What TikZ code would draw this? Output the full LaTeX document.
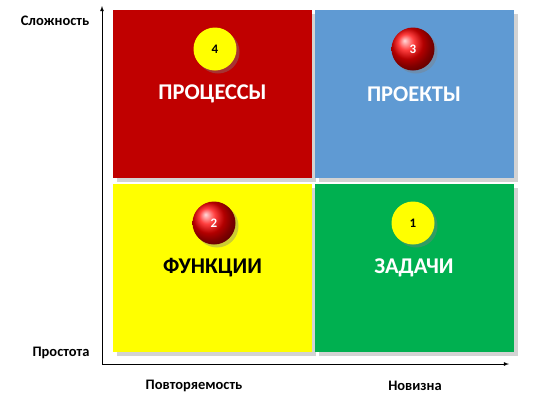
\documentclass[tikz,border=0pt]{standalone}
\usepackage{fontspec}
\setmainfont{Carlito}
\usetikzlibrary{shapes,arrows,shadows}
\definecolor{procred}{HTML}{C00000}
\definecolor{projblue}{HTML}{5F9AD3}
\definecolor{funcyellow}{HTML}{FFFF00}
\definecolor{taskgreen}{HTML}{00B050}
\tikzset{
	quad/.style     = {rectangle, minimum width = 199pt, minimum height = 168pt,
		font = \bfseries\fontsize{22.5}{22.5}\selectfont, text = white,
		drop shadow = {shadow xshift = 4pt, shadow yshift = -4pt, opacity = 0.35}},
	rank/.style     = {circle, minimum size = 43pt, inner sep = 0pt,
		font = \bfseries\fontsize{13}{13}\selectfont,
		drop shadow = {shadow xshift = 3pt, shadow yshift = -3pt, opacity = 0.4}},
	hot/.style      = {rank, ball color = red, text = white},
	cold/.style     = {rank, fill = funcyellow, text = black},
	axlabel/.style  = {font = \bfseries\fontsize{14.5}{14.5}\selectfont}
}

\begin{document}
\begin{tikzpicture}[x = 1pt, y = -1pt, >=latex, line width = 0.8pt]
	\useasboundingbox (0,0) rectangle (538,400);
	\draw
	node at (212.5,94) [quad, fill = procred] (proc) {ПРОЦЕССЫ}
	node at (414,94) [quad, fill = projblue] (proj) {ПРОЕКТЫ}
	node at (212.5,268) [quad, fill = funcyellow, text = black] (func) {ФУНКЦИИ}
	node at (414,268) [quad, fill = taskgreen] (task) {ЗАДАЧИ};

	\draw
	node at (215,49) [cold] (r4) {4}
	node at (413,49) [hot] (r3) {3}
	node at (214,223) [hot] (r2) {2}
	node at (413,223) [cold] (r1) {1};

	\coordinate (o) at (102,364);
	\coordinate (top) at (102,6);
	\coordinate (right) at (509,364);
	\draw[->] (o)--(top);
	\draw[->] (o)--(right);

	\draw
	node at (55,21) [axlabel] (hard) {Сложность}
	node at (61,353) [axlabel] (easy) {Простота}
	node at (194,386) [axlabel] (rep) {Повторяемость}
	node at (415,386) [axlabel] (new) {Новизна};
\end{tikzpicture}
\end{document}
